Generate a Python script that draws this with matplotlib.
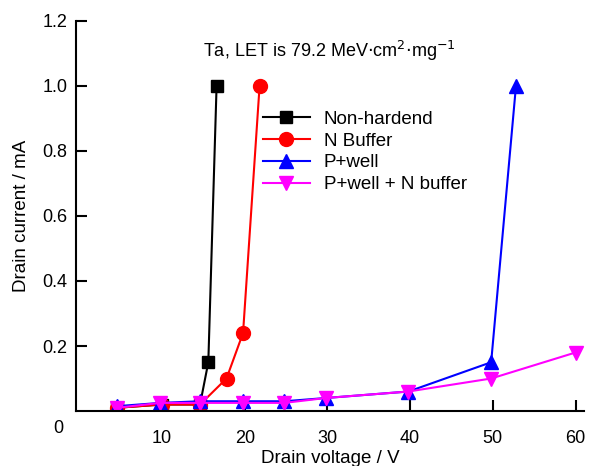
import matplotlib
matplotlib.use("Agg")
import matplotlib.pyplot as plt

plt.rcParams['font.family'] = ['Liberation Sans', 'DejaVu Sans']

# drain voltage (V) and drain current (mA)
v_non = [4.6, 10, 14.6, 15.6, 16.6]
i_non = [0.01, 0.02, 0.02, 0.15, 1.0]
v_nbuf = [4.6, 10, 14.6, 17.8, 19.8, 21.8]
i_nbuf = [0.01, 0.02, 0.02, 0.1, 0.24, 1.0]
v_pwell = [4.6, 9.8, 14.6, 19.8, 24.8, 29.8, 39.8, 49.8, 52.8]
i_pwell = [0.015, 0.025, 0.03, 0.03, 0.03, 0.04, 0.06, 0.15, 1.0]
v_both = [4.6, 9.8, 14.6, 19.8, 24.8, 29.8, 39.8, 49.8, 60]
i_both = [0.01, 0.025, 0.025, 0.025, 0.025, 0.04, 0.06, 0.1, 0.18]

labels = ['Non-hardend', 'N Buffer', 'P+well', 'P+well + N buffer']
xticks = [10, 20, 30, 40, 50, 60]
yticks = [0.2, 0.4, 0.6, 0.8, 1.0, 1.2]

fig = plt.figure(figsize=(5.96, 4.66), dpi=100)
ax = fig.add_axes([0.1275, 0.118, 0.852, 0.837])

ax.plot(v_non, i_non, '-s', color='black', lw=1.5, ms=8.5, label=labels[0])
ax.plot(v_nbuf, i_nbuf, '-o', color='red', lw=1.5, ms=10, label=labels[1])
ax.plot(v_pwell, i_pwell, '-^', color='blue', lw=1.5, ms=10, label=labels[2])
ax.plot(v_both, i_both, '-v', color='magenta', lw=1.5, ms=10, label=labels[3])

ax.set_xlim(-0.4, 61)
ax.set_ylim(0, 1.2)
ax.set_xticks(xticks)
ax.set_yticks(yticks)
ax.set_yticklabels(['%.1f' % t for t in yticks])
ax.tick_params(direction='in', length=8, width=1.5, labelsize=13)
ax.tick_params(axis='x', pad=14)
ax.tick_params(axis='y', pad=6)
for s in ['top', 'right']:
    ax.spines[s].set_visible(False)
for s in ['left', 'bottom']:
    ax.spines[s].set_linewidth(1.5)

ax.text(-0.035, -0.044, '0', transform=ax.transAxes, fontsize=13,
        ha='center', va='center')

ax.set_xlabel('Drain voltage / V', fontsize=13.5, labelpad=2)
ax.set_ylabel('Drain current / mA', fontsize=13.5, labelpad=9)

ax.text(0.5, 0.923, 'Ta, LET is 79.2 MeV$\\cdot$cm$^2$$\\cdot$mg$^{-1}$',
        transform=ax.transAxes, ha='center', va='center', fontsize=13)

ax.legend(loc='upper left', bbox_to_anchor=(0.368, 0.77), frameon=False,
          fontsize=13.5, handlelength=2.5, handletextpad=0.75,
          labelspacing=0.25, borderpad=0, borderaxespad=0)

fig.savefig('out.png', dpi=100)
